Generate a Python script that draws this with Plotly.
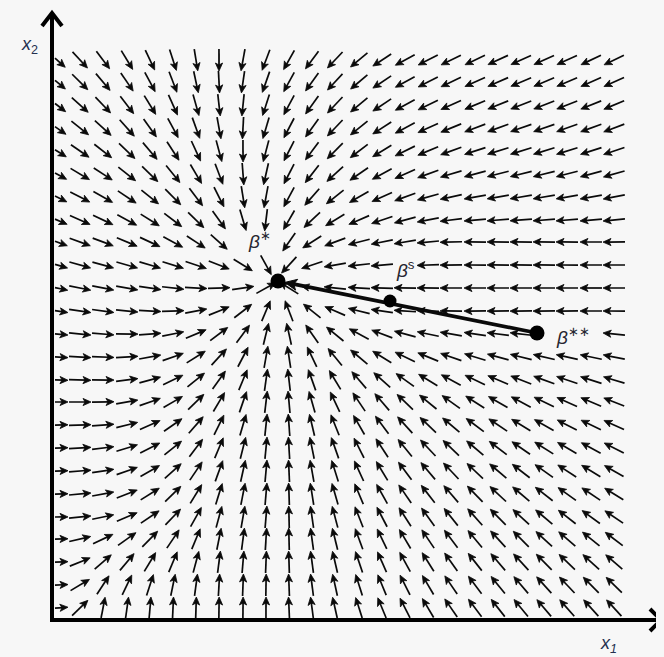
import numpy as np
import plotly.graph_objects as go

# sample points of the direction field (x1, x2 units, origin at the axes corner)
X1_GRID = [5, 28, 51, 75, 98, 121, 144, 167, 191, 214, 237, 260, 283,
           307, 330, 353, 376, 399, 423, 446, 469, 492, 515, 539, 562]
X2_GRID = [12, 35, 58, 81, 103, 126, 149, 172, 195, 218, 240, 263, 286,
           309, 332, 355, 378, 400, 423, 446, 469, 492, 515, 538, 560]

# named points
BETA_STAR = (226, 339)
BETA_S = (338, 319)
BETA_2STAR = (485, 287)

# deviation (deg) of each arrow from the straight direction to beta*
OFFSET_X1 = [3, 48, 113, 166, 226, 348, 408, 569]
OFFSET_X2 = [3, 25, 100, 220, 307, 339, 377, 450, 565]
OFFSET_DEG = [
    [-55, 28, 19, 10, 0, 7, 8, -4],
    [-55, 2, 12, 9, 0, 4, 5, -3],
    [-47, -43, -23, -1, -2, 5, 2, 1],
    [-28, -34, -21, -5, 0, 0, -1, -2],
    [-16, -18, -16, -5, 0, 10, 10, 5],
    [-13, -12, -10, -5, 0, 0, 0, 0],
    [-10, -8, -8, -8, -20, -7, -12, -6],
    [-3, -1, -5, -8, -22, -17, -15, -1],
    [4, -1, -6, -15, -26, -33, -25, -7],
]

# grid cells hidden behind the labels (row index, col index)
SKIP = [(16, 8), (16, 9), (15, 15), (12, 21), (12, 22), (12, 23)]

INK = "#0a0a0a"
BG = "#f7f7f7"
ARROW_LEN = 22
HEAD_LEN = 8
HEAD_W = 3.6
X_MIN, Y_MIN = 3, 2   # inner edge of the axis lines


def offset_at(x1, x2):
    col = [np.interp(x1, OFFSET_X1, row) for row in OFFSET_DEG]
    return np.interp(x2, OFFSET_X2, col)


def arrow(cx, cy, ang, length, head_len, head_w):
    ux, uy = np.cos(ang), np.sin(ang)
    tx, ty = cx - ux * length / 2, cy - uy * length / 2
    px, py = cx + ux * length / 2, cy + uy * length / 2
    # clip the tail at the axes
    if tx < X_MIN and ux > 0:
        t = (X_MIN - tx) / ux
        tx, ty = tx + ux * t, ty + uy * t
    if ty < Y_MIN and uy > 0:
        t = (Y_MIN - ty) / uy
        tx, ty = tx + ux * t, ty + uy * t
    bx, by = px - ux * head_len, py - uy * head_len
    nx, ny = -uy, ux
    shaft = ([tx, px - ux * head_len * 0.6], [ty, py - uy * head_len * 0.6])
    head = ([px, bx + nx * head_w, px - ux * head_len * 0.75, bx - nx * head_w, px],
            [py, by + ny * head_w, py - uy * head_len * 0.75, by - ny * head_w, py])
    return shaft, head


sx, sy, hx, hy = [], [], [], []
for j, x2 in enumerate(X2_GRID):
    for i, x1 in enumerate(X1_GRID):
        if (j, i) in SKIP:
            continue
        d1, d2 = BETA_STAR[0] - x1, BETA_STAR[1] - x2
        phi = np.degrees(np.arctan2(d2, d1))
        psi = np.radians(phi + offset_at(x1, x2))
        shaft, head = arrow(x1, x2, psi, ARROW_LEN, HEAD_LEN, HEAD_W)
        sx += shaft[0] + [None]
        sy += shaft[1] + [None]
        hx += head[0] + [None]
        hy += head[1] + [None]

fig = go.Figure()
fig.add_trace(go.Scatter(x=sx, y=sy, mode="lines", line=dict(color=INK, width=1.7),
                         hoverinfo="skip", showlegend=False))
fig.add_trace(go.Scatter(x=hx, y=hy, mode="lines", fill="toself", fillcolor=INK,
                         line=dict(color=INK, width=0.8), hoverinfo="skip", showlegend=False))

# path from beta** to beta*
dx, dy = BETA_STAR[0] - BETA_2STAR[0], BETA_STAR[1] - BETA_2STAR[1]
dist = np.hypot(dx, dy)
ux, uy = dx / dist, dy / dist
tip = (BETA_STAR[0] - ux * 7, BETA_STAR[1] - uy * 7)
base = (tip[0] - ux * 12, tip[1] - uy * 12)
fig.add_trace(go.Scatter(x=[BETA_2STAR[0], base[0] + ux * 4], y=[BETA_2STAR[1], base[1] + uy * 4],
                         mode="lines", line=dict(color=INK, width=3.8),
                         hoverinfo="skip", showlegend=False))
fig.add_trace(go.Scatter(
    x=[tip[0], base[0] - uy * 5.5, base[0] + ux * 3, base[0] + uy * 5.5, tip[0]],
    y=[tip[1], base[1] + ux * 5.5, base[1] + uy * 3, base[1] - ux * 5.5, tip[1]],
    mode="lines", fill="toself", fillcolor=INK, line=dict(color=INK, width=1),
    hoverinfo="skip", showlegend=False))

fig.add_trace(go.Scatter(
    x=[BETA_STAR[0], BETA_S[0], BETA_2STAR[0]],
    y=[BETA_STAR[1], BETA_S[1], BETA_2STAR[1]],
    mode="markers", marker=dict(color="black", size=[15, 13, 15], opacity=1,
                                line=dict(width=0)),
    hoverinfo="skip", showlegend=False))

# axes with arrow heads
axis_line = dict(color="black", width=4)
fig.add_shape(type="line", x0=-2, y0=0, x1=608, y1=0, line=axis_line)
fig.add_shape(type="line", x0=0, y0=-2, x1=0, y1=606, line=axis_line)
fig.add_shape(type="path", path="M 598,11 L 609,0 L 598,-11", line=axis_line)
fig.add_shape(type="path", path="M -10,594 L 0,607 L 10,594", line=axis_line)

label_font = dict(family="Liberation Sans, Arial", size=18, color="#24304f")
beta_font = dict(family="Liberation Sans, Arial", size=19, color="#262630")
star = "∗"
fig.add_annotation(x=-23, y=575, text="<i>x</i><sub>2</sub>", showarrow=False, font=label_font)
fig.add_annotation(x=556, y=-24, text="<i>x</i><sub><i>1</i></sub>", showarrow=False, font=label_font)
fig.add_annotation(x=207, y=380, text="<i>β</i><sup>" + star + "</sup>",
                   showarrow=False, font=beta_font)
fig.add_annotation(x=353, y=351, text="<i>β</i><sup>s</sup>", showarrow=False, font=beta_font)
fig.add_annotation(x=521, y=284, text="<i>β</i><sup>" + star + star + "</sup>",
                   showarrow=False, font=beta_font)

# the page body keeps an 8px margin, so the figure is 8px smaller and shifted
fig.update_xaxes(range=[-44, 612], visible=False, fixedrange=True)
fig.update_yaxes(range=[-37, 612], visible=False, fixedrange=True)
fig.update_layout(
    width=656, height=649,
    margin=dict(l=0, r=0, t=0, b=0),
    paper_bgcolor=BG, plot_bgcolor=BG,
    showlegend=False,
)

fig.write_html("out.html", post_script="document.body.style.background='%s';" % BG)
